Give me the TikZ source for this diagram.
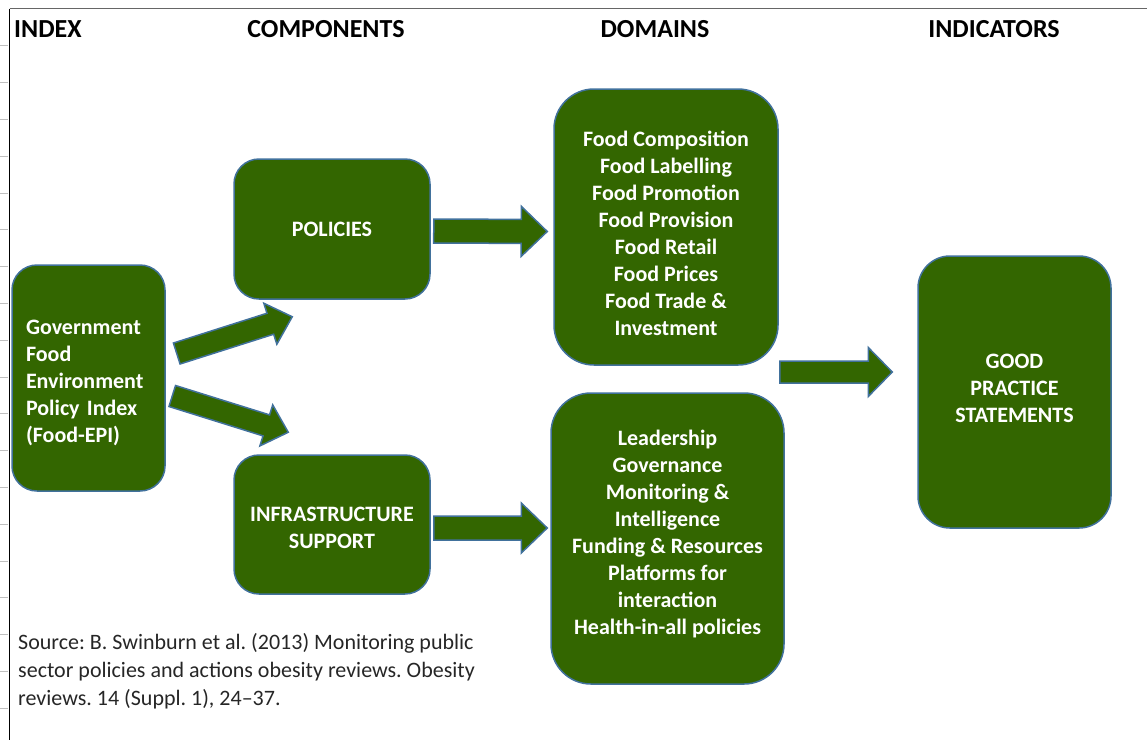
\documentclass[tikz,border=0pt]{standalone}
\usepackage{fontspec}
\setmainfont{Carlito}
\usetikzlibrary{calc}
\newcommand\boxfnt{\fontsize{22}{27}\selectfont\bfseries}
\newcommand\headfnt{\fontsize{26}{30}\selectfont\bfseries}
\newcommand\srcfnt{\fontsize{22}{28}\selectfont\frenchspacing}
% struts that push a box text down (\padtop) or up (\padbot)
\newcommand\padtop[1]{\rule{0pt}{#1}}
\newcommand\padbot[1]{\rule[-#1]{0pt}{#1}}

\begin{document}
\begin{tikzpicture}[x=1pt,y=-1pt,
    box/.style={draw=edge, line width=1.5pt, fill=leaf, text=white, font=\boxfnt,
      align=center, inner sep=0pt, rounded corners=#1},
    box/.default=25pt,
    colhead/.style={font=\headfnt, anchor=base, inner sep=0pt},
    fat arrow/.style n args={3}{draw=edge, fill=leaf, line width=1.5pt, line join=miter,
      to path={
        ($(\tikztostart)!#1pt!90:(\tikztotarget)$)
        -- ($($(\tikztotarget)!#3pt!(\tikztostart)$)!#1pt!90:(\tikztotarget)$)
        -- ($($(\tikztotarget)!#3pt!(\tikztostart)$)!#2pt!90:(\tikztotarget)$)
        -- (\tikztotarget)
        -- ($($(\tikztotarget)!#3pt!(\tikztostart)$)!#2pt!-90:(\tikztotarget)$)
        -- ($($(\tikztotarget)!#3pt!(\tikztostart)$)!#1pt!-90:(\tikztotarget)$)
        -- ($(\tikztostart)!#1pt!-90:(\tikztotarget)$) -- cycle}},
    fat arrow/.default={12}{25}{26}]
  \definecolor{leaf}{HTML}{336600}
  \definecolor{edge}{HTML}{41719C}
  \useasboundingbox (0,0) rectangle (1147,740);

  \foreach \k in {1,...,19}
    \draw[black!25, line width=1pt] (0,9+36.8*\k) -- (8,9+36.8*\k);
  \draw[black!60, line width=1.2pt] (9.5,8.5) -- (1147,8.5);
  \draw[black, line width=1.2pt] (9.5,8.5) -- (9.5,740);

  \node[colhead, anchor=base west] (hidx) at (14,37) {INDEX};
  \node[colhead] (hcomp) at (326,37) {COMPONENTS};
  \node[colhead] (hdom) at (655,37) {DOMAINS};
  \node[colhead] (hind) at (994,37) {INDICATORS};

  \node[box, minimum width=153, minimum height=226, text width=125, align=left] (idx) at (88.5,378)
    {\padtop{24pt}Government\\Food\\Environment\\Policy Index\\(Food-EPI)};
  \node[box, minimum width=196, minimum height=140] (pol) at (332,229) {POLICIES};
  \node[box, minimum width=196, minimum height=139] (inf) at (332,524.5) {\padtop{22pt}INFRASTRUCTURE\\SUPPORT};
  \node[box=40pt, minimum width=224, minimum height=276] (domA) at (666,227)
    {\padtop{28pt}Food Composition\\Food Labelling\\Food Promotion\\Food Provision\\Food Retail\\Food Prices\\Food Trade \&\\Investment};
  \node[box=40pt, minimum width=233, minimum height=291] (domB) at (667.5,538.5)
    {Leadership\\Governance\\Monitoring \&\\Intelligence\\Funding \& Resources\\Platforms for\\interaction\\Health-in-all policies\padbot{12pt}};
  \node[box=32pt, minimum width=193, minimum height=272] (gp) at (1014.5,392)
    {GOOD\\PRACTICE\\STATEMENTS\padbot{8pt}};

  \coordinate (a1) at ($(idx.east)+(11,-24.5)$);
  \coordinate (b1) at ($(pol.south west)+(59,17)$);
  \coordinate (a2) at ($(idx.east)+(6.5,18)$);
  \coordinate (b2) at ($(inf.north west)+(55,-22)$);
  \coordinate (a3) at ($(pol.east)+(3,2)$);
  \coordinate (b3) at ($(domA.west)+(-6,4.5)$);
  \coordinate (a4) at ($(inf.east)+(3,3.5)$);
  \coordinate (b4) at ($(domB.west)+(-3,-10.5)$);
  \coordinate (a5) at ($(domA.east)+(1,145)$);
  \coordinate (b5) at ($(gp.west)+(-25,-20)$);

  \draw[fat arrow={11}{21.5}{23}] (a1) to (b1);
  \draw[fat arrow={11}{21.5}{23}] (a2) to (b2);
  \draw[fat arrow] (a3) to (b3);
  \draw[fat arrow] (a4) to (b4);
  \draw[fat arrow={11}{24.5}{24}] (a5) to (b5);

  \node[anchor=north west, align=left, font=\srcfnt, inner sep=0pt, text=black!85] (src) at (18,633)
    {Source: B. Swinburn et al. (2013) Monitoring public\\sector policies and actions obesity reviews. Obesity\\reviews. 14 (Suppl. 1), 24--37.};
\end{tikzpicture}
\end{document}
